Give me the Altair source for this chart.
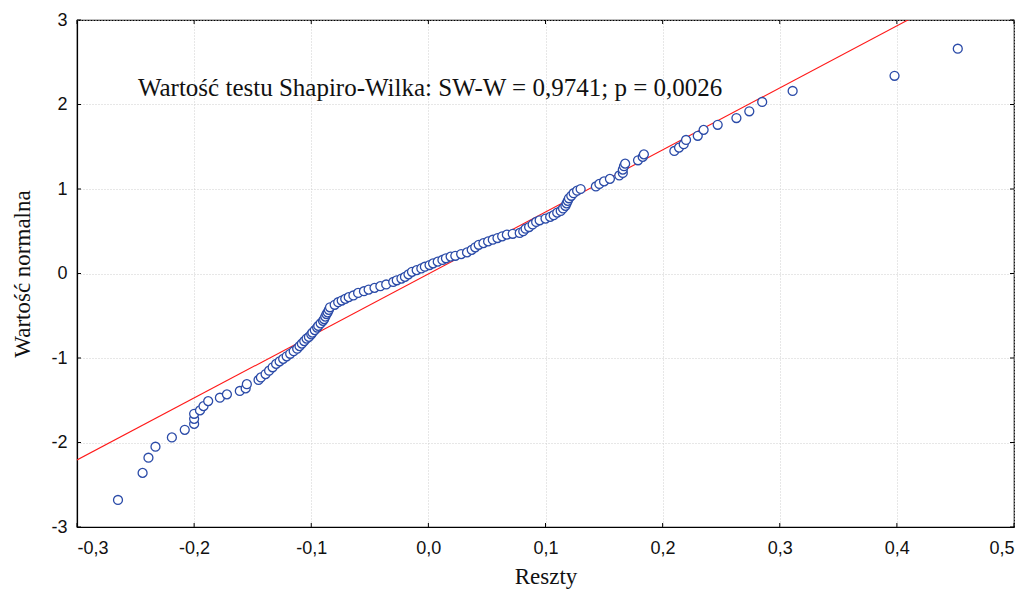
import altair as alt
import pandas as pd

# Residuals (x) and normal scores (y)
resid = [
    -0.265, -0.244, -0.239, -0.233, -0.219, -0.208, -0.200, -0.200, -0.200, -0.195,
    -0.192, -0.188, -0.178, -0.172, -0.161, -0.156, -0.155, -0.145, -0.143,
    -0.139, -0.136, -0.133, -0.130, -0.127, -0.124, -0.121, -0.118, -0.115, -0.112,
    -0.110, -0.108, -0.106, -0.104, -0.102, -0.100, -0.099, -0.097, -0.095, -0.094,
    -0.092, -0.090, -0.089, -0.088, -0.087, -0.086, -0.085, -0.084, -0.080, -0.077,
    -0.074, -0.071, -0.068, -0.064, -0.060, -0.055, -0.051, -0.046, -0.041, -0.036,
    -0.030, -0.027, -0.023, -0.020, -0.017, -0.014, -0.010, -0.006, -0.003, 0.001,
    0.004, 0.008, 0.012, 0.015, 0.019, 0.023, 0.028, 0.033, 0.037, 0.040,
    0.043, 0.047, 0.051, 0.055, 0.059, 0.063, 0.067, 0.072, 0.078, 0.081,
    0.083, 0.086, 0.089, 0.092, 0.095, 0.100, 0.104, 0.107, 0.110, 0.113,
    0.115, 0.117, 0.118, 0.119, 0.120, 0.122, 0.124, 0.127, 0.130, 0.143,
    0.146, 0.150, 0.155, 0.163, 0.166, 0.166, 0.167, 0.168, 0.179, 0.183,
    0.184, 0.210, 0.214, 0.218, 0.220, 0.230, 0.235, 0.247, 0.263, 0.274,
    0.285, 0.311, 0.398, 0.452,
]
normal = [
    -2.68, -2.36, -2.18, -2.05, -1.94, -1.85, -1.78, -1.72, -1.66, -1.62,
    -1.57, -1.51, -1.47, -1.43, -1.39, -1.36, -1.31, -1.26, -1.23,
    -1.19, -1.15, -1.11, -1.07, -1.04, -1.01, -0.98, -0.95, -0.92, -0.89,
    -0.86, -0.83, -0.80, -0.77, -0.75, -0.72, -0.70, -0.67, -0.64, -0.62,
    -0.59, -0.56, -0.54, -0.51, -0.48, -0.46, -0.43, -0.40, -0.37, -0.34,
    -0.32, -0.30, -0.28, -0.26, -0.23, -0.21, -0.19, -0.17, -0.15, -0.13,
    -0.10, -0.08, -0.06, -0.04, -0.01, 0.02, 0.04, 0.06, 0.08, 0.10,
    0.12, 0.14, 0.16, 0.18, 0.20, 0.21, 0.23, 0.25, 0.28, 0.31,
    0.34, 0.36, 0.38, 0.40, 0.42, 0.44, 0.46, 0.47, 0.48, 0.50,
    0.53, 0.55, 0.58, 0.61, 0.63, 0.65, 0.67, 0.69, 0.72, 0.74,
    0.77, 0.80, 0.83, 0.86, 0.89, 0.92, 0.95, 0.98, 1.00, 1.03,
    1.06, 1.09, 1.12, 1.16, 1.19, 1.23, 1.27, 1.30, 1.34, 1.38,
    1.41, 1.45, 1.49, 1.53, 1.58, 1.63, 1.70, 1.76, 1.84, 1.92,
    2.03, 2.16, 2.34, 2.66,
]

# Reference (fitted) line endpoints
line_x = [-0.3, 0.5]
line_y = [-2.207, 3.665]

x_ticks = [-0.3, -0.2, -0.1, 0.0, 0.1, 0.2, 0.3, 0.4, 0.5]
y_ticks = [-3, -2, -1, 0, 1, 2, 3]

note_text = ["Wartość testu Shapiro-Wilka: SW-W = 0,9741; p = 0,0026"]
note_x = [-0.248]
note_y = [2.19]

W, H = 937, 507
TL = 4

pts = pd.DataFrame({"x": resid, "y": normal})
ln = pd.DataFrame({"x": line_x, "y": line_y})
xt = pd.DataFrame({"v": x_ticks})
yt = pd.DataFrame({"v": y_ticks})
note = pd.DataFrame({"t": note_text, "x": note_x, "y": note_y})

xscale = alt.Scale(domain=[-0.3, 0.5], nice=False, zero=False)
yscale = alt.Scale(domain=[-3, 3], nice=False, zero=False)

lab_x = "replace(replace(format(datum.value, '.1f'), '.', ','), '\u2212', '-')"
lab_y = "replace(format(datum.value, 'd'), '\u2212', '-')"

common = dict(
    tickSize=0, grid=True, domainColor="#000", domainWidth=1.2,
    gridColor="#cfcfcf", gridDash=[1, 2], gridWidth=1,
    labelFont="Liberation Sans", labelFontSize=18, labelColor="#111",
    titleFont="Liberation Serif", titleFontSize=23, titleFontWeight="normal",
    titleColor="#111",
)
xaxis = alt.Axis(values=x_ticks, labelExpr=lab_x, title="Reszty",
                 labelPadding=12, titlePadding=8, **common)
yaxis = alt.Axis(values=y_ticks, labelExpr=lab_y, title="Wartość normalna",
                 labelPadding=10, titlePadding=16, **common)

line = alt.Chart(ln).mark_line(color="#ff1a1a", strokeWidth=1.1, clip=True).encode(
    x=alt.X("x:Q", scale=xscale, axis=xaxis),
    y=alt.Y("y:Q", scale=yscale, axis=yaxis),
)

points = alt.Chart(pts).mark_point(
    shape="circle", filled=False, fill="white", fillOpacity=1,
    stroke="#2b4ba8", strokeWidth=1.3, size=80, opacity=1
).encode(x=alt.X("x:Q", scale=xscale), y=alt.Y("y:Q", scale=yscale))

text = alt.Chart(note).mark_text(
    align="left", baseline="middle", font="Liberation Serif", fontSize=25, color="#111"
).encode(x=alt.X("x:Q", scale=xscale), y=alt.Y("y:Q", scale=yscale), text="t:N")

tick_bottom = alt.Chart(xt).mark_rule(color="#000", strokeWidth=1).encode(
    x=alt.X("v:Q", scale=xscale), y=alt.value(H), y2=alt.value(H - TL))
tick_top = alt.Chart(xt).mark_rule(color="#000", strokeWidth=1).encode(
    x=alt.X("v:Q", scale=xscale), y=alt.value(0), y2=alt.value(TL))
tick_left = alt.Chart(yt).mark_rule(color="#000", strokeWidth=1).encode(
    y=alt.Y("v:Q", scale=yscale), x=alt.value(0), x2=alt.value(TL))
tick_right = alt.Chart(yt).mark_rule(color="#000", strokeWidth=1).encode(
    y=alt.Y("v:Q", scale=yscale), x=alt.value(W), x2=alt.value(W - TL))

chart = alt.layer(
    line, points, text, tick_bottom, tick_top, tick_left, tick_right
).properties(
    width=W, height=H,
    background="white",
    autosize=alt.AutoSizeParams(type="none"),
    padding={"left": 69, "top": 12, "right": 5, "bottom": 63},
).configure_view(
    stroke="#000", strokeWidth=1.2
)

chart.save("out.html", embed_options={"renderer": "svg", "actions": False})
